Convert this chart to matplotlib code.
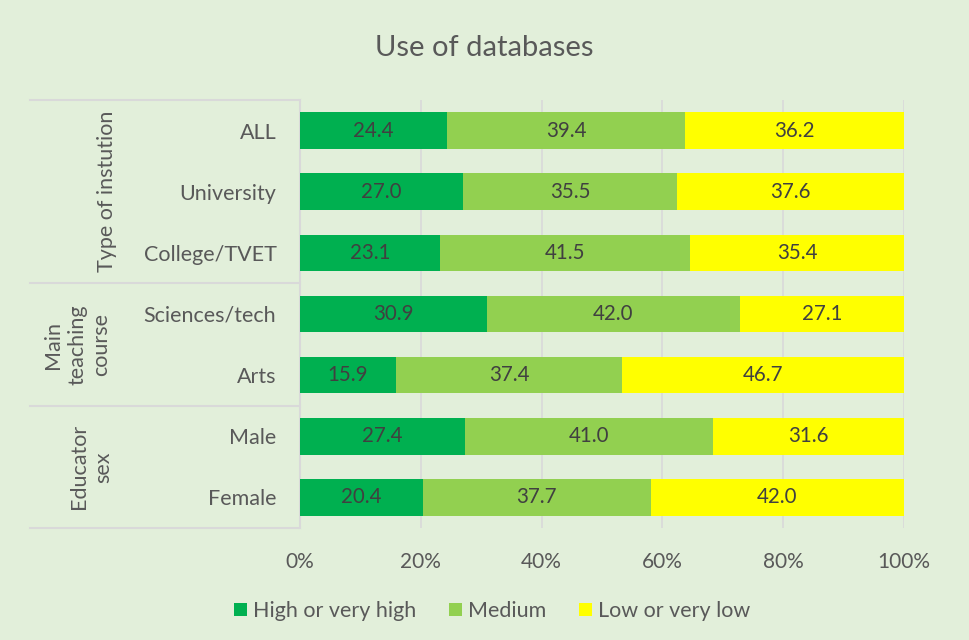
import numpy as np
import matplotlib
matplotlib.use("Agg")
import matplotlib.pyplot as plt
from matplotlib.ticker import FuncFormatter
from matplotlib.patches import Patch

plt.rcParams['font.family'] = ['Lato', 'DejaVu Sans']

categories = ["ALL", "University", "College/TVET", "Sciences/tech", "Arts", "Male", "Female"]
high = [24.4, 27.0, 23.1, 30.9, 15.9, 27.4, 20.4]
medium = [39.4, 35.5, 41.5, 42.0, 37.4, 41.0, 37.7]
low = [36.2, 37.6, 35.4, 27.1, 46.7, 31.6, 42.0]
series_names = ["High or very high", "Medium", "Low or very low"]
groups = ["Type of instution", "Main\nteaching\ncourse", "Educator\nsex"]
group_sizes = [3, 2, 2]

colours = ["#00B050", "#92D050", "#FFFF00"]
bg = "#E2EFDA"
grid_c = "#D9D9D9"
txt = "#595959"

fig = plt.figure(figsize=(9.69, 6.40), dpi=100, facecolor=bg)
ax = fig.add_axes([300/969, 1 - 528/640, 604/969, 428/640], facecolor=bg)

data = np.array([high, medium, low])
totals = data.sum(axis=0)
frac = data / totals
y = np.arange(len(categories))
left = np.zeros(len(categories))
for i in range(3):
    bars = ax.barh(y, frac[i], left=left, height=0.6, color=colours[i], zorder=3)
    for j, b in enumerate(bars):
        ax.text(left[j] + frac[i][j] / 2, y[j], "%.1f" % data[i][j],
                ha="center", va="center", fontsize=14.8, color="#404040", zorder=4)
    left += frac[i]

ax.set_xlim(0, 1)
ax.set_ylim(len(categories) - 0.5, -0.5)
ax.set_xticks(np.linspace(0, 1, 6))
ax.xaxis.set_major_formatter(FuncFormatter(lambda v, p: "%d%%" % round(v * 100)))
ax.set_yticks(y)
ax.set_yticklabels(categories)
ax.tick_params(axis="x", length=0, labelsize=15, labelcolor=txt, pad=17)
ax.tick_params(axis="y", length=0, labelsize=15.5, labelcolor=txt, pad=17)
ax.grid(axis="x", color=grid_c, linewidth=1.2, zorder=0)
for s in ["top", "right", "bottom"]:
    ax.spines[s].set_visible(False)
ax.spines["left"].set_color(grid_c)
ax.spines["left"].set_linewidth(1.5)

# group separators and labels
trans = ax.get_yaxis_transform()
x0 = (30 - 300) / 604
start = -0.5
ax.plot([x0, 0], [start, start], transform=trans, color=grid_c, lw=1.5, clip_on=False)
label_x = [(107 - 300) / 604, (77 - 300) / 604, (91 - 300) / 604]
for g, n, lx in zip(groups, group_sizes, label_x):
    end = start + n
    ax.plot([x0, 0], [end, end], transform=trans, color=grid_c, lw=1.5, clip_on=False)
    ax.text(lx, (start + end) / 2, g, transform=trans, rotation=90, ha="center",
            va="center", fontsize=15.5, color=txt, linespacing=1.25)
    start = end

fig.text(0.5, 1 - 48/640, "Use of databases", ha="center", va="center", fontsize=21, color=txt)

handles = [Patch(facecolor=c) for c in colours]
fig.legend(handles, series_names, loc="center", bbox_to_anchor=(492/969, 1 - 611/640), ncol=3,
           frameon=False, fontsize=15.5, labelcolor=txt, handlelength=0.6, handleheight=0.6,
           columnspacing=1.5, handletextpad=0.3)

fig.savefig("out.png", dpi=100, facecolor=bg)
